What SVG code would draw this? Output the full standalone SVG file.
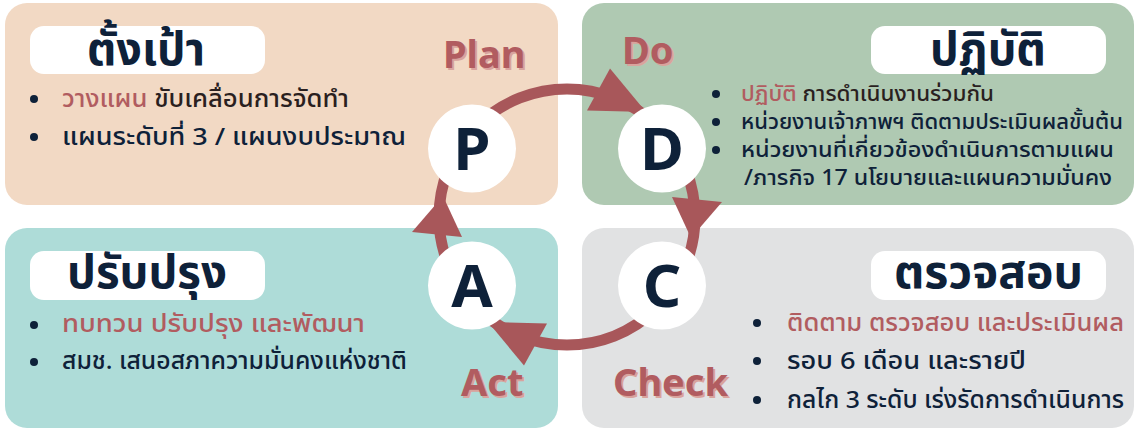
<svg xmlns="http://www.w3.org/2000/svg" width="1139" height="430" viewBox="0 0 1139 430">
<style>
.th{font-family:'Noto Sans Thai','Noto Sans',sans-serif;}
.title{font-size:46px;font-weight:700;fill:#0E2139;}
.body{font-size:24px;font-weight:500;fill:#0E2139;}
.bodyS{font-size:22px;font-weight:500;fill:#0E2139;}
.red{fill:#B15C60;}
.dark{fill:#2A1F1F;}
.pill{fill:#FFFFFF;}
.dot{fill:#0E2139;}
.lbl{font-family:'Noto Sans','Open Sans',sans-serif;font-size:38px;font-weight:700;fill:#B15C60;}
.lblsh{font-family:'Noto Sans','Open Sans',sans-serif;font-size:38px;font-weight:700;fill:#D9A39D;}
.node circle{fill:#FFFFFF;}
.node text{font-family:'Noto Sans','Open Sans',sans-serif;font-size:60px;font-weight:700;fill:#0E2139;text-anchor:middle;}
.arr{fill:#A8575A;}
</style>

<g id="panel-plan">
<rect x="5" y="3" width="553" height="202" rx="22" fill="#F2D9C4"/>
<rect class="pill" x="30" y="26" width="235" height="48" rx="14"/>
<text class="th title" x="87" y="65" textLength="118" lengthAdjust="spacingAndGlyphs">ตั้งเป้า</text>
<circle class="dot" cx="34" cy="99" r="4"/>
<circle class="dot" cx="34" cy="137" r="4"/>
<text class="th body" x="62" y="107" textLength="287" lengthAdjust="spacingAndGlyphs"><tspan class="red">วางแผน</tspan> <tspan class="dark">ขับเคลื่อนการจัดทำ</tspan></text>
<text class="th body" x="62" y="145" textLength="344" lengthAdjust="spacingAndGlyphs">แผนระดับที่ 3 / แผนงบประมาณ</text>
<text class="lblsh" x="445" y="70">Plan</text>
<text class="lbl" x="443" y="68">Plan</text>
</g>

<g id="panel-do">
<rect x="582" y="3" width="552" height="202" rx="22" fill="#AFC9B2"/>
<rect class="pill" x="871" y="26" width="235" height="48" rx="14"/>
<text class="th title" x="930" y="65" textLength="116" lengthAdjust="spacingAndGlyphs">ปฏิบัติ</text>
<circle class="dot" cx="716" cy="94" r="4"/>
<circle class="dot" cx="716" cy="122" r="4"/>
<circle class="dot" cx="716" cy="150" r="4"/>
<text class="th bodyS" x="741" y="101" textLength="253" lengthAdjust="spacingAndGlyphs"><tspan class="red">ปฏิบัติ</tspan> <tspan class="dark">การดำเนินงานร่วมกัน</tspan></text>
<text class="th bodyS" x="741" y="129" textLength="382" lengthAdjust="spacingAndGlyphs">หน่วยงานเจ้าภาพฯ ติดตามประเมินผลขั้นต้น</text>
<text class="th bodyS" x="741" y="157" textLength="373" lengthAdjust="spacingAndGlyphs">หน่วยงานที่เกี่ยวข้องดำเนินการตามแผน</text>
<text class="th bodyS" x="744" y="185" textLength="368" lengthAdjust="spacingAndGlyphs">/ภารกิจ 17 นโยบายและแผนความมั่นคง</text>
<text class="lblsh" x="624" y="66">Do</text>
<text class="lbl" x="622" y="64">Do</text>
</g>

<g id="panel-act">
<rect x="5" y="228" width="553" height="200" rx="22" fill="#AEDCD8"/>
<rect class="pill" x="30" y="251" width="235" height="49" rx="14"/>
<text class="th title" x="67" y="288" textLength="160" lengthAdjust="spacingAndGlyphs">ปรับปรุง</text>
<circle class="dot" cx="34" cy="325" r="4"/>
<circle class="dot" cx="34" cy="362" r="4"/>
<text class="th body red" x="62" y="332" textLength="303" lengthAdjust="spacingAndGlyphs">ทบทวน ปรับปรุง และพัฒนา</text>
<text class="th body" x="62" y="369" textLength="345" lengthAdjust="spacingAndGlyphs">สมช. เสนอสภาความมั่นคงแห่งชาติ</text>
<text class="lblsh" x="463" y="398">Act</text>
<text class="lbl" x="461" y="396">Act</text>
</g>

<g id="panel-check">
<rect x="582" y="228" width="552" height="200" rx="22" fill="#E1E2E3"/>
<rect class="pill" x="871" y="251" width="235" height="49" rx="14"/>
<text class="th title" x="894" y="288" textLength="189" lengthAdjust="spacingAndGlyphs">ตรวจสอบ</text>
<circle class="dot" cx="757" cy="323" r="4"/>
<circle class="dot" cx="757" cy="361" r="4"/>
<circle class="dot" cx="757" cy="400" r="4"/>
<text class="th body red" x="787" y="331" textLength="337" lengthAdjust="spacingAndGlyphs">ติดตาม ตรวจสอบ และประเมินผล</text>
<text class="th body" x="787" y="369" textLength="239" lengthAdjust="spacingAndGlyphs">รอบ 6 เดือน และรายปี</text>
<text class="th body" x="787" y="408" textLength="337" lengthAdjust="spacingAndGlyphs">กลไก 3 ระดับ เร่งรัดการดำเนินการ</text>
<text class="lblsh" x="615" y="398">Check</text>
<text class="lbl" x="613" y="396">Check</text>
</g>

<g id="connectors">
<circle cx="567" cy="217" r="128" fill="none" stroke="#A8575A" stroke-width="11"/>
<polygon class="arr" points="610,68.5 587,110.5 646,112"/>
<polygon class="arr" points="672,197 722,202 691,238"/>
<polygon class="arr" points="524,365.5 547,323.5 488,322"/>
<polygon class="arr" points="462,237 412,232 443,196"/>
</g>

<g id="node-P" class="node"><circle cx="472" cy="148.5" r="44"/><text x="472" y="170">P</text></g>
<g id="node-D" class="node"><circle cx="662" cy="148.5" r="44"/><text x="662" y="170">D</text></g>
<g id="node-A" class="node"><circle cx="472" cy="285.5" r="44"/><text x="472" y="307">A</text></g>
<g id="node-C" class="node"><circle cx="662" cy="285.5" r="44"/><text x="662" y="307">C</text></g>
</svg>
